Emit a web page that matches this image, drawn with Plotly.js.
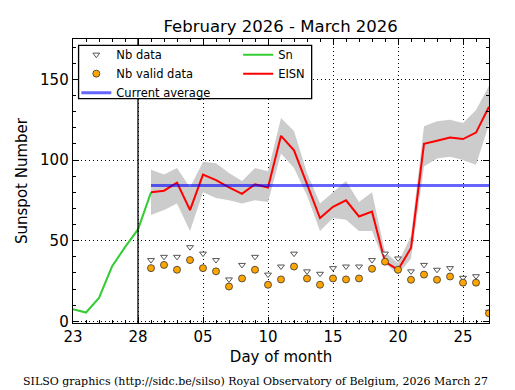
<!DOCTYPE html>
<html>
<head>
<meta charset="utf-8">
<script src="https://cdn.plot.ly/plotly-3.0.1.min.js"></script>
<style>html,body{margin:0;padding:0;background:#fff;}#chart{width:515px;height:390px;}</style>
</head>
<body>
<div id="chart"></div>
<script>
// ---- data ----
const snDates = ['2026-02-23','2026-02-24','2026-02-25','2026-02-26','2026-02-27','2026-02-28','2026-03-01'];
const snValues = [7.5, 5.5, 14.5, 34, 46, 57, 80];

const eisnDates = ['2026-03-01','2026-03-02','2026-03-03','2026-03-04','2026-03-05','2026-03-06','2026-03-07',
  '2026-03-08','2026-03-09','2026-03-10','2026-03-11','2026-03-12','2026-03-13','2026-03-14','2026-03-15',
  '2026-03-16','2026-03-17','2026-03-18','2026-03-19','2026-03-20','2026-03-21','2026-03-22','2026-03-23',
  '2026-03-24','2026-03-25','2026-03-26','2026-03-27'];
const eisnValues = [80, 81, 86, 69, 91, 87.5, 83, 79, 85, 83, 115, 106, 85, 64, 71, 75, 65, 68, 37, 32, 45.5, 110, 112, 114, 113, 117, 133];
const eisnUpper  = [94, 91, 95, 83, 99, 98, 92, 87, 95, 93, 126, 118, 92, 73, 80, 87, 74, 80, 43, 36, 53, 121, 124, 125, 123, 131, 146];
const eisnLower  = [66, 69, 73, 56, 80, 76.5, 75, 73, 75, 74, 104, 95, 78, 56, 64, 63, 56, 56, 36, 29, 39, 96, 101, 102, 100, 97, 122];

const nbData      = [38, 40, 40, 46, 42, 38, 26, 35, 40, 29, 34, 42, 31, 29.5, 33, 34, 34, 38, 42, 39, 31, 35, 32, 33, 27, 28, 6];
const nbValidData = [33, 35, 32, 38, 33, 31, 21.6, 26.6, 32, 22.7, 26, 34, 26.6, 22.7, 26.6, 26, 26.6, 32.6, 37, 32, 25.8, 29, 25.8, 27.8, 24, 24, 5];

const currentAverage = 84.2;
const periodBoundary = '2026-02-28';

const titleText = 'February 2026 - March 2026';
const xTitle = 'Day of month';
const yTitle = 'Sunspot Number';
const footer = 'SILSO graphics (http://sidc.be/silso) Royal Observatory of Belgium, 2026 March 27';

// ---- traces ----
const DAY = 86400000;
const traces = [
  {x: eisnDates, y: eisnUpper, type: 'scatter', mode: 'lines', line: {width: 0, color: 'rgba(0,0,0,0)'},
   showlegend: false, hoverinfo: 'skip'},
  {x: eisnDates, y: eisnLower, type: 'scatter', mode: 'lines', line: {width: 0, color: 'rgba(0,0,0,0)'},
   fill: 'tonexty', fillcolor: '#cccccc', showlegend: false, hoverinfo: 'skip'},
  {x: snDates, y: snValues, type: 'scatter', mode: 'lines', name: 'Sn',
   line: {color: '#33cc33', width: 2}, legend: 'legend2', legendrank: 1},
  {x: eisnDates, y: eisnValues, type: 'scatter', mode: 'lines', name: 'EISN',
   line: {color: '#ff0000', width: 2}, legend: 'legend2', legendrank: 2},
  {x: [eisnDates[0], eisnDates[eisnDates.length - 1]], y: [currentAverage, currentAverage],
   type: 'scatter', mode: 'lines', name: 'Current average',
   line: {color: 'rgba(0,0,255,0.6)', width: 3}, legend: 'legend', legendrank: 3},
  {x: eisnDates, y: nbData, type: 'scatter', mode: 'markers', name: 'Nb data',
   marker: {symbol: 'triangle-down', size: 6, color: '#ffffff', line: {color: '#555555', width: 1}},
   legend: 'legend', legendrank: 1},
  {x: eisnDates, y: nbValidData, type: 'scatter', mode: 'markers', name: 'Nb valid data',
   marker: {symbol: 'circle', size: 7, color: '#ffa500', line: {color: '#333333', width: 0.8}},
   legend: 'legend', legendrank: 2}
];

const legendFont = {family: 'DejaVu Sans', size: 11.5, color: '#000'};
const gridDash = '1px,3px';

const layout = {
  width: 515, height: 390,
  margin: {l: 72.7, r: 25.7, t: 39.3, b: 66.7, pad: 0},
  paper_bgcolor: '#fff', plot_bgcolor: '#fff',
  font: {family: 'DejaVu Sans', color: '#000'},
  title: {text: titleText, font: {family: 'DejaVu Sans', size: 16.5, color: '#000'},
          x: 0.545, xanchor: 'center', y: 0.932, yanchor: 'middle'},
  showlegend: true,
  legend: {orientation: 'v', x: 0.008, xanchor: 'left', y: 0.996, yanchor: 'top',
           bgcolor: 'rgba(0,0,0,0)', borderwidth: 0, font: legendFont, traceorder: 'normal'},
  legend2: {orientation: 'v', x: 0.397, xanchor: 'left', y: 0.996, yanchor: 'top',
           bgcolor: 'rgba(0,0,0,0)', borderwidth: 0, font: legendFont, traceorder: 'normal'},
  xaxis: {
    type: 'date', range: ['2026-02-23', '2026-03-27'],
    tick0: '2026-02-23', dtick: 5 * DAY, tickformat: '%d',
    ticks: 'inside', ticklen: 6, tickwidth: 1, tickcolor: '#000',
    mirror: 'allticks', showline: true, linecolor: '#000', linewidth: 1.3,
    showgrid: true, gridcolor: '#000', griddash: gridDash, gridwidth: 1,
    zeroline: false,
    tickfont: {family: 'DejaVu Sans', size: 15, color: '#000'},
    minor: {dtick: DAY, ticks: 'inside', ticklen: 3, tickcolor: '#000', showgrid: false},
    title: {text: xTitle, font: {family: 'DejaVu Sans', size: 15, color: '#000'}, standoff: 6}
  },
  yaxis: {
    range: [-1, 175], tick0: 0, dtick: 50,
    ticks: 'inside', ticklen: 6, tickwidth: 1, tickcolor: '#000',
    mirror: 'allticks', showline: true, linecolor: '#000', linewidth: 1.3,
    showgrid: true, gridcolor: '#000', griddash: gridDash, gridwidth: 1,
    zeroline: false,
    tickfont: {family: 'DejaVu Sans', size: 15, color: '#000'},
    minor: {dtick: 10, ticks: 'inside', ticklen: 3, tickcolor: '#000', showgrid: false},
    title: {text: yTitle, font: {family: 'DejaVu Sans', size: 15, color: '#000'}, standoff: 8}
  },
  shapes: [
    {type: 'line', xref: 'x', yref: 'paper', x0: periodBoundary, x1: periodBoundary, y0: 0, y1: 1,
     line: {color: '#000', width: 1.3}},
    {type: 'rect', xref: 'paper', yref: 'paper', x0: 0.0134, x1: 0.5737, y0: 0.7898, y1: 0.9775,
     fillcolor: '#ffffff', line: {color: '#000', width: 1.3}, layer: 'above'}
  ],
  annotations: [
    {text: footer, xref: 'paper', yref: 'paper', x: 0.4376, y: -0.205, xanchor: 'center', yanchor: 'middle',
     showarrow: false, font: {family: 'DejaVu Serif', size: 11, color: '#000'}}
  ]
};

Plotly.newPlot('chart', traces, layout, {displayModeBar: false, staticPlot: true});
</script>
</body>
</html>
